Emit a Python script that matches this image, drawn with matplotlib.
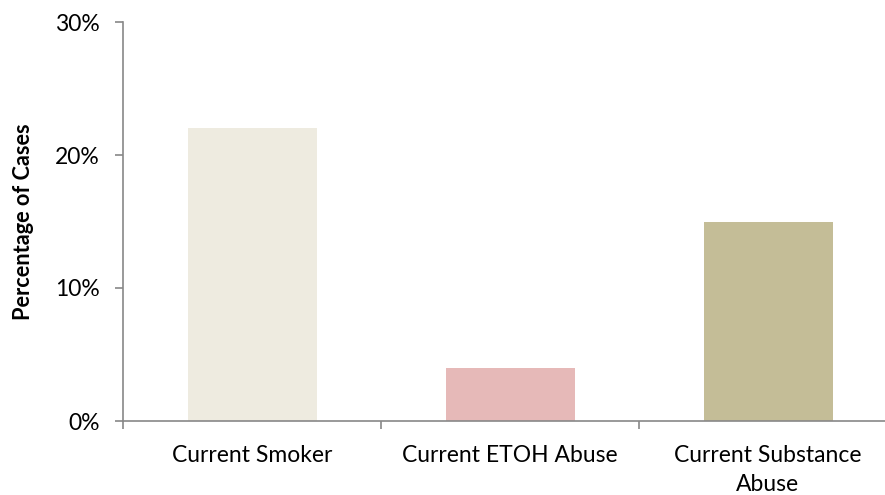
import matplotlib.pyplot as plt
from matplotlib.ticker import FuncFormatter

categories = ['Current Smoker', 'Current ETOH Abuse', 'Current Substance\nAbuse']
percentages = [22, 4, 15]
colors = ['#EEEBE0', '#E6B9B8', '#C4BD97']

plt.rcParams['font.family'] = ['Lato', 'DejaVu Sans']

fig = plt.figure(figsize=(8.85, 4.95), dpi=100)
ax = fig.add_axes([123 / 885, 74 / 495, 774 / 885, 399 / 495])

x = range(len(categories))
ax.bar(x, percentages, width=0.5, color=colors)

ax.set_xlim(-0.5, 2.5)
ax.set_ylim(0, 30)
ax.set_yticks([0, 10, 20, 30])
ax.yaxis.set_major_formatter(FuncFormatter(lambda v, p: f'{v:.0f}%'))

# category labels between the boundary ticks
ax.set_xticks([-0.5, 0.5, 1.5, 2.5])
ax.set_xticklabels([])
ax.set_xticks(list(x), minor=True)
ax.set_xticklabels(categories, minor=True, fontsize=16.5, linespacing=1.5)
ax.tick_params(axis='x', which='minor', length=0, pad=17)
ax.tick_params(axis='x', which='major', length=6, color='#888888', width=1.2)
ax.tick_params(axis='y', length=6, color='#888888', width=1.2, labelsize=16.5, pad=11)

for side in ['top', 'right']:
    ax.spines[side].set_visible(False)
for side in ['left', 'bottom']:
    ax.spines[side].set_color('#888888')
    ax.spines[side].set_linewidth(1.2)

ax.set_ylabel('Percentage of Cases', fontsize=15.7, fontweight='bold', labelpad=15)

fig.savefig('out.png', dpi=100)
